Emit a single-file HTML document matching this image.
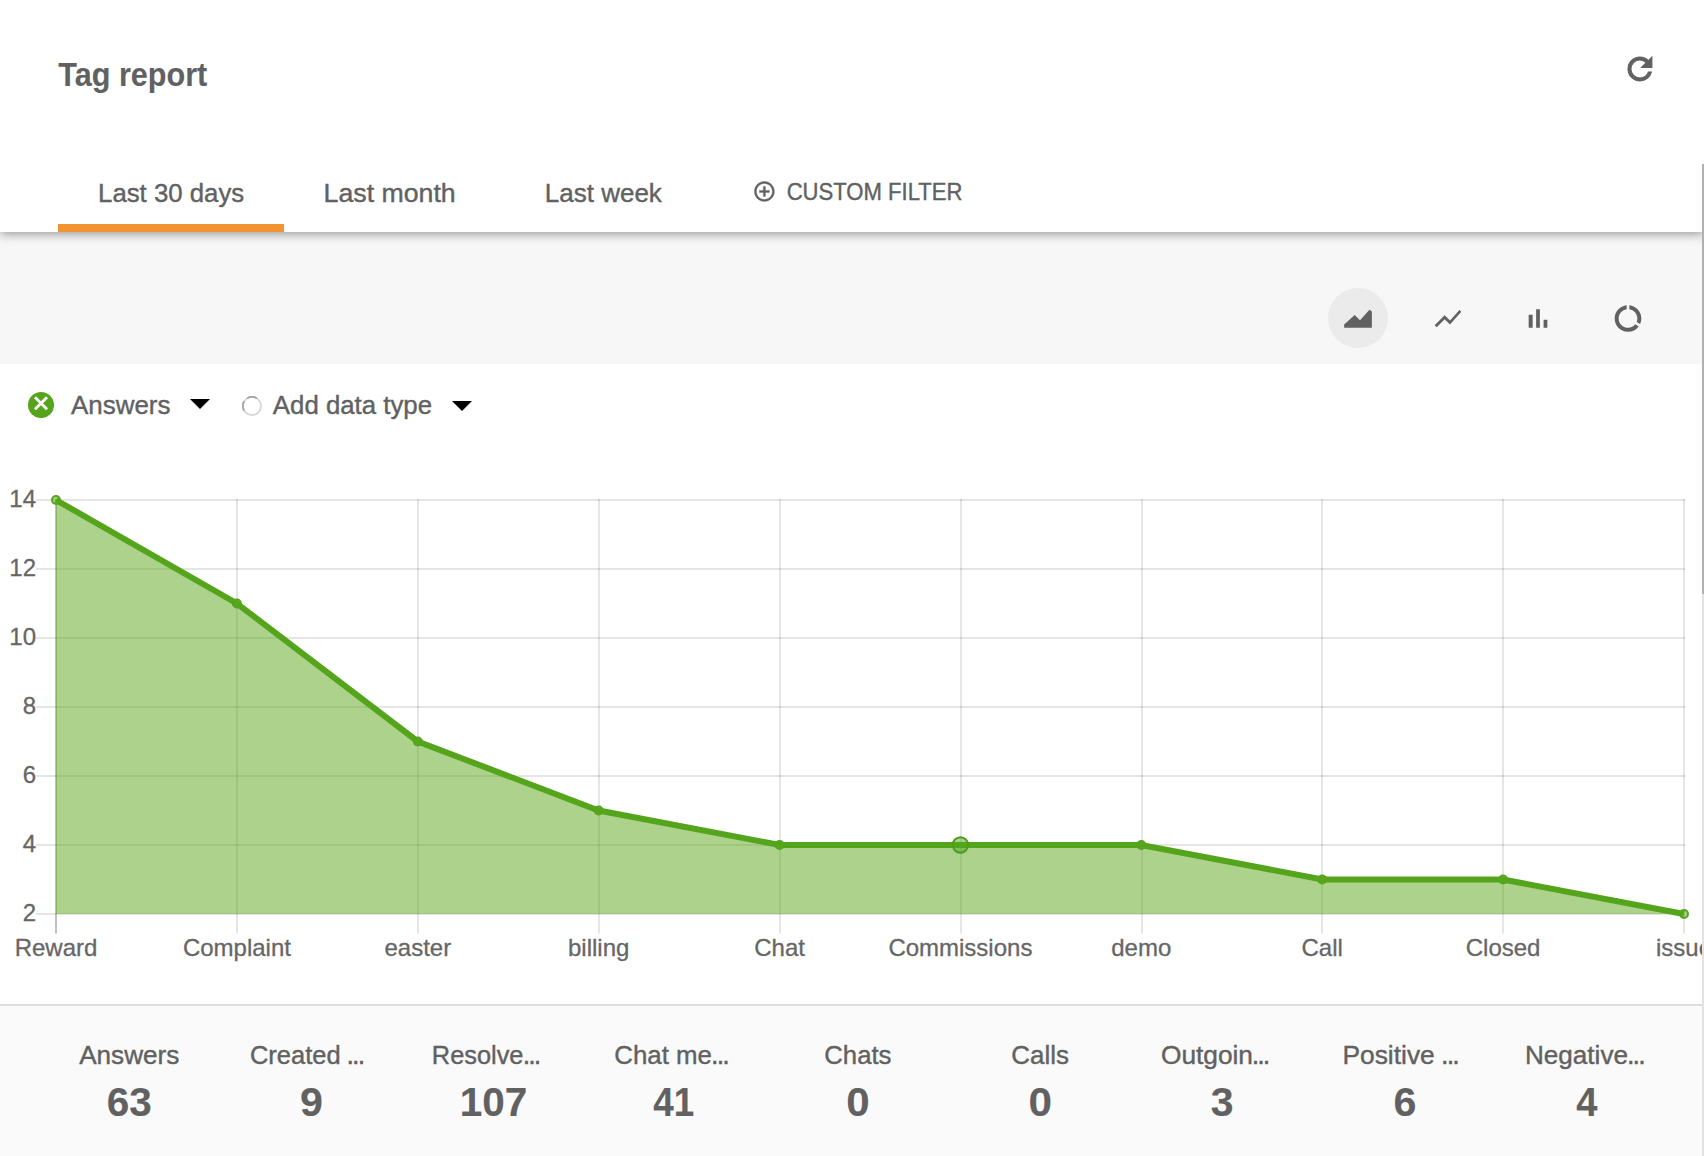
<!DOCTYPE html>
<html lang="en">
<head>
<meta charset="utf-8">
<title>Tag report</title>
<style>
  html, body { margin: 0; padding: 0; }
  body {
    width: 1704px; height: 1156px; overflow: hidden; position: relative;
    background: #ffffff;
    font-family: "Liberation Sans", sans-serif;
    color: #616161;
  }
  .abs { position: absolute; }
  .t {
    position: absolute; white-space: nowrap; transform-origin: 0 0;
    font-family: "Liberation Sans", sans-serif;
    -webkit-text-stroke: 0.4px currentColor;
  }
  /* ---- header ---- */
  #header {
    position: absolute; left: 0; top: 0; width: 1704px; height: 232px;
    background: #ffffff; z-index: 5;
    box-shadow: 0 2px 10px rgba(0,0,0,0.4);
  }
  #tabbar-ink { position: absolute; left: 58px; top: 224px; width: 226px; height: 8px; background: #f39231; }
  /* ---- toolbar ---- */
  #toolbar { position: absolute; left: 0; top: 232px; width: 1702px; height: 132px; background: #f7f7f7; z-index: 1; }
  .cbtn { position: absolute; top: 56px; width: 60px; height: 60px; border-radius: 50%; }
  .cbtn.active { background: #ebebeb; }
  .cbtn svg { position: absolute; left: 14px; top: 14px; width: 32px; height: 32px; fill: #616161; }
  /* ---- legend ---- */
  #legend { position: absolute; left: 0; top: 364px; width: 1702px; height: 106px; background: #fff; }
  /* ---- chart ---- */
  #chart { position: absolute; left: 0; top: 470px; width: 1702px; height: 534px; overflow: hidden; }
  /* ---- stats ---- */
  #stats { position: absolute; left: 0; top: 1004px; width: 1702px; height: 152px; background: #fafafa; border-top: 2px solid #dedede; box-sizing: border-box; }
  /* ---- scrollbar ---- */
  #sb-track { position: absolute; left: 1702px; top: 164px; width: 2px; height: 992px; background: rgba(0,0,0,0.115); z-index: 9; }
  #sb-thumb { position: absolute; left: 1702px; top: 164px; width: 2px; height: 430px; background: #b0b0b0; z-index: 10; }
</style>
</head>
<body>

<div id="header">
  <div id="tabbar-ink"></div>
<span class="t" id="title" style="left:58px;top:57.21px;font-size:34.00px;line-height:34.00px;font-weight:700;color:#616161;-webkit-text-stroke-width:0.1px;transform:translateX(0.29px) scaleX(0.8994)">Tag report</span>
<span class="t" id="tab1" style="left:98px;top:179.56px;font-size:26.50px;line-height:26.50px;font-weight:400;color:#616161;transform:translateX(0.05px) scaleX(0.9723)">Last 30 days</span>
<span class="t" id="tab2" style="left:324px;top:179.56px;font-size:26.50px;line-height:26.50px;font-weight:400;color:#616161;transform:translateX(-0.43px) scaleX(1.0080)">Last month</span>
<span class="t" id="tab3" style="left:545px;top:179.56px;font-size:26.50px;line-height:26.50px;font-weight:400;color:#616161;transform:translateX(-0.15px) scaleX(0.9805)">Last week</span>
<span class="t" id="custom" style="left:787px;top:180.26px;font-size:24.50px;line-height:24.50px;font-weight:400;color:#616161;transform:translateX(-0.35px) scaleX(0.9012)">CUSTOM FILTER</span>
  <!-- refresh icon -->
  <svg class="abs" id="refresh" style="left:1621.55px;top:51.15px;width:35.9px;height:35.9px" viewBox="0 0 24 24"><path fill="#616161" stroke="#616161" stroke-width="0.700" d="M17.65 6.35C16.2 4.9 14.21 4 12 4c-4.42 0-7.99 3.58-7.99 8s3.57 8 7.99 8c3.73 0 6.84-2.55 7.73-6h-2.08c-.82 2.33-3.04 4-5.65 4-3.31 0-6-2.69-6-6s2.69-6 6-6c1.66 0 3.14.69 4.22 1.78L13 11h7V4l-2.35 2.35z"/></svg>
  <!-- add circle icon -->
  <svg class="abs" id="addc" style="left:752px;top:179px;width:24px;height:24px" viewBox="-0.4 -0.4 24 24"><path fill="#616161" stroke="#616161" stroke-width="0.350" d="M13 7h-2v4H7v2h4v4h2v-4h4v-2h-4V7zm-1-5C6.48 2 2 6.48 2 12s4.48 10 10 10 10-4.480 10-10S17.52 2 12 2zm0 18c-4.41 0-8-3.59-8-8s3.590-8 8-8 8 3.590 8 8-3.590 8-8 8z"/></svg>
</div>

<div id="toolbar">
  <div class="cbtn active" style="left:1328px"><svg viewBox="0 -0.4 24 24"><path d="M1.6 16.5 L9.5 9.350 L13.5 13.3 L20.6 5.4 L22.4 6.8 V19 H1.6 Z"/></svg></div>
  <div class="cbtn" style="left:1418px"><svg viewBox="0 -0.4 24 24"><path d="M3.5 18.490l6-6.010 4 4L22 6.920l-1.410-1.410-7.090 7.970-4-4L2 16.990z"/></svg></div>
  <div class="cbtn" style="left:1508px"><svg viewBox="0 -0.4 24 24"><path d="M5 9.200h3V19H5zM10.600 5h2.800v14h-2.800zm5.600 8H19v6h-2.800z"/></svg></div>
  <div class="cbtn" style="left:1598px"><svg viewBox="0 -0.4 24 24"><path d="M13 2.050v3.030c3.390.490 6 3.390 6 6.920 0 .9-.180 1.750-.480 2.540l2.600 1.530c.560-1.240.880-2.620.880-4.070 0-5.180-3.950-9.450-9-9.950zM12 19c-3.870 0-7-3.130-7-7 0-3.530 2.610-6.430 6-6.920V2.050c-5.060.5-9 4.760-9 9.950 0 5.520 4.470 10 9.990 10 3.310 0 6.240-1.610 8.060-4.090l-2.600-1.530C16.170 17.980 14.210 19 12 19z"/></svg></div>
</div>

<div id="legend">
<span class="t" id="leg1" style="left:71px;top:27.56px;font-size:26.50px;line-height:26.50px;font-weight:400;color:#616161;transform:translateX(0.01px) scaleX(0.9788)">Answers</span>
<span class="t" id="leg2" style="left:273px;top:27.56px;font-size:26.50px;line-height:26.50px;font-weight:400;color:#616161;transform:translateX(-0.14px) scaleX(0.9733)">Add data type</span>
  <!-- green remove circle -->
  <svg class="abs" style="left:28px;top:27.8px;width:26.1px;height:26.1px" viewBox="0 0 26.1 26.1"><circle cx="13.050" cy="13.050" r="13.050" fill="#55a51c"/><path d="M7 5.250 L19 17.250 M19 5.250 L7 17.250" stroke="#fff" stroke-width="2.800" fill="none"/></svg>
  <svg class="abs" style="left:190px;top:35px;width:20px;height:10px" viewBox="0 0 20 10"><path d="M0 0h20L10 10z" fill="#000"/></svg>
  <svg class="abs" style="left:242px;top:32px;width:20px;height:20px" viewBox="0 0 20 20"><circle cx="10" cy="10" r="9.100" fill="#fff" stroke="#d6d6d6" stroke-width="1.800"/><path d="M5.18 2.28 A9.1 9.1 0 0 1 14.82 2.28 M2.20 14.69 A9.1 9.1 0 0 1 2.20 5.31" fill="none" stroke="#a6a6a6" stroke-width="1.800"/></svg>
  <svg class="abs" style="left:452px;top:37.1px;width:20px;height:10px" viewBox="0 0 20 10"><path d="M0 0h20L10 10z" fill="#000"/></svg>
</div>

<div id="chart">
<svg width="1702" height="534" viewBox="0 470 1702 534" style="display:block;font-family:'Liberation Sans',sans-serif">
<rect x="36" y="913.0" width="1649.0" height="2" fill="rgba(0,0,0,0.1)"/>
<rect x="36" y="844.0" width="1649.0" height="2" fill="rgba(0,0,0,0.1)"/>
<rect x="36" y="775.0" width="1649.0" height="2" fill="rgba(0,0,0,0.1)"/>
<rect x="36" y="706.0" width="1649.0" height="2" fill="rgba(0,0,0,0.1)"/>
<rect x="36" y="637.0" width="1649.0" height="2" fill="rgba(0,0,0,0.1)"/>
<rect x="36" y="568.0" width="1649.0" height="2" fill="rgba(0,0,0,0.1)"/>
<rect x="36" y="499.0" width="1649.0" height="2" fill="rgba(0,0,0,0.1)"/>
<rect x="236.0" y="499" width="2" height="434.5" fill="rgba(0,0,0,0.1)"/>
<rect x="417.0" y="499" width="2" height="434.5" fill="rgba(0,0,0,0.1)"/>
<rect x="598.0" y="499" width="2" height="434.5" fill="rgba(0,0,0,0.1)"/>
<rect x="779.0" y="499" width="2" height="434.5" fill="rgba(0,0,0,0.1)"/>
<rect x="960.0" y="499" width="2" height="434.5" fill="rgba(0,0,0,0.1)"/>
<rect x="1141.0" y="499" width="2" height="434.5" fill="rgba(0,0,0,0.1)"/>
<rect x="1321.0" y="499" width="2" height="434.5" fill="rgba(0,0,0,0.1)"/>
<rect x="1502.0" y="499" width="2" height="434.5" fill="rgba(0,0,0,0.1)"/>
<rect x="1683.0" y="499" width="2" height="434.5" fill="rgba(0,0,0,0.1)"/>
<rect x="55" y="499" width="2" height="434.5" fill="rgba(0,0,0,0.25)"/>
<polygon points="56.0,500.0 236.9,603.5 417.8,741.5 598.7,810.5 779.6,845.0 960.4,845.0 1141.3,845.0 1322.2,879.5 1503.1,879.5 1684.0,914.0 1684.0,914 56.0,914" fill="rgba(90,165,25,0.5)"/>
<polyline points="56.0,500.0 236.9,603.5 417.8,741.5 598.7,810.5 779.6,845.0 960.4,845.0 1141.3,845.0 1322.2,879.5 1503.1,879.5 1684.0,914.0" fill="none" stroke="#55a51c" stroke-width="6" stroke-linejoin="miter" stroke-linecap="butt"/>
<circle cx="56.0" cy="500.0" r="4" fill="rgba(90,165,25,0.5)" stroke="#55a51c" stroke-width="2"/>
<circle cx="236.9" cy="603.5" r="4" fill="rgba(90,165,25,0.5)" stroke="#55a51c" stroke-width="2"/>
<circle cx="417.8" cy="741.5" r="4" fill="rgba(90,165,25,0.5)" stroke="#55a51c" stroke-width="2"/>
<circle cx="598.7" cy="810.5" r="4" fill="rgba(90,165,25,0.5)" stroke="#55a51c" stroke-width="2"/>
<circle cx="779.6" cy="845.0" r="4" fill="rgba(90,165,25,0.5)" stroke="#55a51c" stroke-width="2"/>
<circle cx="960.4" cy="845.0" r="7.7" fill="rgba(85,165,28,0.5)" stroke="#4f9c1c" stroke-width="2"/>
<circle cx="1141.3" cy="845.0" r="4" fill="rgba(90,165,25,0.5)" stroke="#55a51c" stroke-width="2"/>
<circle cx="1322.2" cy="879.5" r="4" fill="rgba(90,165,25,0.5)" stroke="#55a51c" stroke-width="2"/>
<circle cx="1503.1" cy="879.5" r="4" fill="rgba(90,165,25,0.5)" stroke="#55a51c" stroke-width="2"/>
<circle cx="1684.0" cy="914.0" r="4" fill="rgba(90,165,25,0.5)" stroke="#55a51c" stroke-width="2"/>
<text x="36" y="921.4" text-anchor="end" font-size="24" fill="#666666" stroke="#666666" stroke-width="0.3">2</text>
<text x="36" y="852.4" text-anchor="end" font-size="24" fill="#666666" stroke="#666666" stroke-width="0.3">4</text>
<text x="36" y="783.4" text-anchor="end" font-size="24" fill="#666666" stroke="#666666" stroke-width="0.3">6</text>
<text x="36" y="714.4" text-anchor="end" font-size="24" fill="#666666" stroke="#666666" stroke-width="0.3">8</text>
<text x="36" y="645.4" text-anchor="end" font-size="24" fill="#666666" stroke="#666666" stroke-width="0.3">10</text>
<text x="36" y="576.4" text-anchor="end" font-size="24" fill="#666666" stroke="#666666" stroke-width="0.3">12</text>
<text x="36" y="507.4" text-anchor="end" font-size="24" fill="#666666" stroke="#666666" stroke-width="0.3">14</text>
<text x="56.0" y="955.7" text-anchor="middle" font-size="24" fill="#666666" stroke="#666666" stroke-width="0.3">Reward</text>
<text x="236.9" y="955.7" text-anchor="middle" font-size="24" fill="#666666" stroke="#666666" stroke-width="0.3">Complaint</text>
<text x="417.8" y="955.7" text-anchor="middle" font-size="24" fill="#666666" stroke="#666666" stroke-width="0.3">easter</text>
<text x="598.7" y="955.7" text-anchor="middle" font-size="24" fill="#666666" stroke="#666666" stroke-width="0.3">billing</text>
<text x="779.6" y="955.7" text-anchor="middle" font-size="24" fill="#666666" stroke="#666666" stroke-width="0.3">Chat</text>
<text x="960.4" y="955.7" text-anchor="middle" font-size="24" fill="#666666" stroke="#666666" stroke-width="0.3">Commissions</text>
<text x="1141.3" y="955.7" text-anchor="middle" font-size="24" fill="#666666" stroke="#666666" stroke-width="0.3">demo</text>
<text x="1322.2" y="955.7" text-anchor="middle" font-size="24" fill="#666666" stroke="#666666" stroke-width="0.3">Call</text>
<text x="1503.1" y="955.7" text-anchor="middle" font-size="24" fill="#666666" stroke="#666666" stroke-width="0.3">Closed</text>
<text x="1684.0" y="955.7" text-anchor="middle" font-size="24" fill="#666666" stroke="#666666" stroke-width="0.3">issue</text>
</svg>
</div>

<div id="stats">
<span class="t" id="sl0" style="left:79px;top:35.56px;font-size:26.50px;line-height:26.50px;font-weight:400;color:#616161;transform:translateX(0.13px) scaleX(0.9867)">Answers</span>
<span class="t" id="sv0" style="left:107px;top:75.71px;font-size:40.50px;line-height:40.50px;font-weight:700;color:#616161;-webkit-text-stroke-width:0.1px;transform:translateX(-0.31px) scaleX(0.9987)">63</span>
<span class="t" id="sl1" style="left:250px;top:35.56px;font-size:26.50px;line-height:26.50px;font-weight:400;color:#616161;transform:translateX(-0.12px) scaleX(0.9623)">Created</span>
<span class="t" id="se1" style="left:346px;top:36.14px;font-size:27.00px;line-height:27.00px;font-weight:400;color:#616161;letter-spacing:-1.90px;transform:translateX(0.45px) scaleX(1.0000)">...</span>
<span class="t" id="sv1" style="left:300px;top:75.71px;font-size:40.50px;line-height:40.50px;font-weight:700;color:#616161;-webkit-text-stroke-width:0.1px;transform:translateX(0.06px) scaleX(1.0169)">9</span>
<span class="t" id="sl2" style="left:432px;top:35.56px;font-size:26.50px;line-height:26.50px;font-weight:400;color:#616161;transform:translateX(-0.19px) scaleX(0.9574)">Resolve</span>
<span class="t" id="se2" style="left:523px;top:36.14px;font-size:27.00px;line-height:27.00px;font-weight:400;color:#616161;letter-spacing:-1.90px;transform:translateX(-0.36px) scaleX(1.0000)">...</span>
<span class="t" id="sv2" style="left:460px;top:75.71px;font-size:40.50px;line-height:40.50px;font-weight:700;color:#616161;-webkit-text-stroke-width:0.1px;transform:translateX(-0.18px) scaleX(0.9998)">107</span>
<span class="t" id="sl3" style="left:614px;top:35.56px;font-size:26.50px;line-height:26.50px;font-weight:400;color:#616161;transform:translateX(0.35px) scaleX(0.9742)">Chat me</span>
<span class="t" id="se3" style="left:711px;top:36.14px;font-size:27.00px;line-height:27.00px;font-weight:400;color:#616161;letter-spacing:-1.90px;transform:translateX(0.06px) scaleX(1.0000)">...</span>
<span class="t" id="sv3" style="left:653px;top:75.71px;font-size:40.50px;line-height:40.50px;font-weight:700;color:#616161;-webkit-text-stroke-width:0.1px;transform:translateX(0.19px) scaleX(0.9090)">41</span>
<span class="t" id="sl4" style="left:824px;top:35.56px;font-size:26.50px;line-height:26.50px;font-weight:400;color:#616161;transform:translateX(0.29px) scaleX(0.9704)">Chats</span>
<span class="t" id="sv4" style="left:846px;top:75.71px;font-size:40.50px;line-height:40.50px;font-weight:700;color:#616161;-webkit-text-stroke-width:0.1px;transform:translateX(0.24px) scaleX(1.0395)">0</span>
<span class="t" id="sl5" style="left:1011px;top:35.56px;font-size:26.50px;line-height:26.50px;font-weight:400;color:#616161;transform:translateX(0.37px) scaleX(0.9798)">Calls</span>
<span class="t" id="sv5" style="left:1029px;top:75.71px;font-size:40.50px;line-height:40.50px;font-weight:700;color:#616161;-webkit-text-stroke-width:0.1px;transform:translateX(-0.49px) scaleX(1.0438)">0</span>
<span class="t" id="sl6" style="left:1161px;top:35.56px;font-size:26.50px;line-height:26.50px;font-weight:400;color:#616161;transform:translateX(-0.06px) scaleX(0.9917)">Outgoin</span>
<span class="t" id="se6" style="left:1252px;top:36.14px;font-size:27.00px;line-height:27.00px;font-weight:400;color:#616161;letter-spacing:-1.90px;transform:translateX(-0.36px) scaleX(1.0000)">...</span>
<span class="t" id="sv6" style="left:1211px;top:75.71px;font-size:40.50px;line-height:40.50px;font-weight:700;color:#616161;-webkit-text-stroke-width:0.1px;transform:translateX(-0.14px) scaleX(1.0121)">3</span>
<span class="t" id="sl7" style="left:1342px;top:35.56px;font-size:26.50px;line-height:26.50px;font-weight:400;color:#616161;transform:translateX(0.41px) scaleX(0.9956)">Positive</span>
<span class="t" id="se7" style="left:1441px;top:36.14px;font-size:27.00px;line-height:27.00px;font-weight:400;color:#616161;letter-spacing:-1.90px;transform:translateX(0.06px) scaleX(1.0000)">...</span>
<span class="t" id="sv7" style="left:1393px;top:75.71px;font-size:40.50px;line-height:40.50px;font-weight:700;color:#616161;-webkit-text-stroke-width:0.1px;transform:translateX(0.47px) scaleX(1.0169)">6</span>
<span class="t" id="sl8" style="left:1525px;top:35.56px;font-size:26.50px;line-height:26.50px;font-weight:400;color:#616161;transform:translateX(-0.12px) scaleX(0.9857)">Negative</span>
<span class="t" id="se8" style="left:1627px;top:36.14px;font-size:27.00px;line-height:27.00px;font-weight:400;color:#616161;letter-spacing:-1.90px;transform:translateX(-0.03px) scaleX(1.0000)">...</span>
<span class="t" id="sv8" style="left:1576px;top:75.71px;font-size:40.50px;line-height:40.50px;font-weight:700;color:#616161;-webkit-text-stroke-width:0.1px;transform:translateX(0.14px) scaleX(0.9397)">4</span>
</div>

<div id="sb-track"></div>
<div id="sb-thumb"></div>



</body>
</html>
